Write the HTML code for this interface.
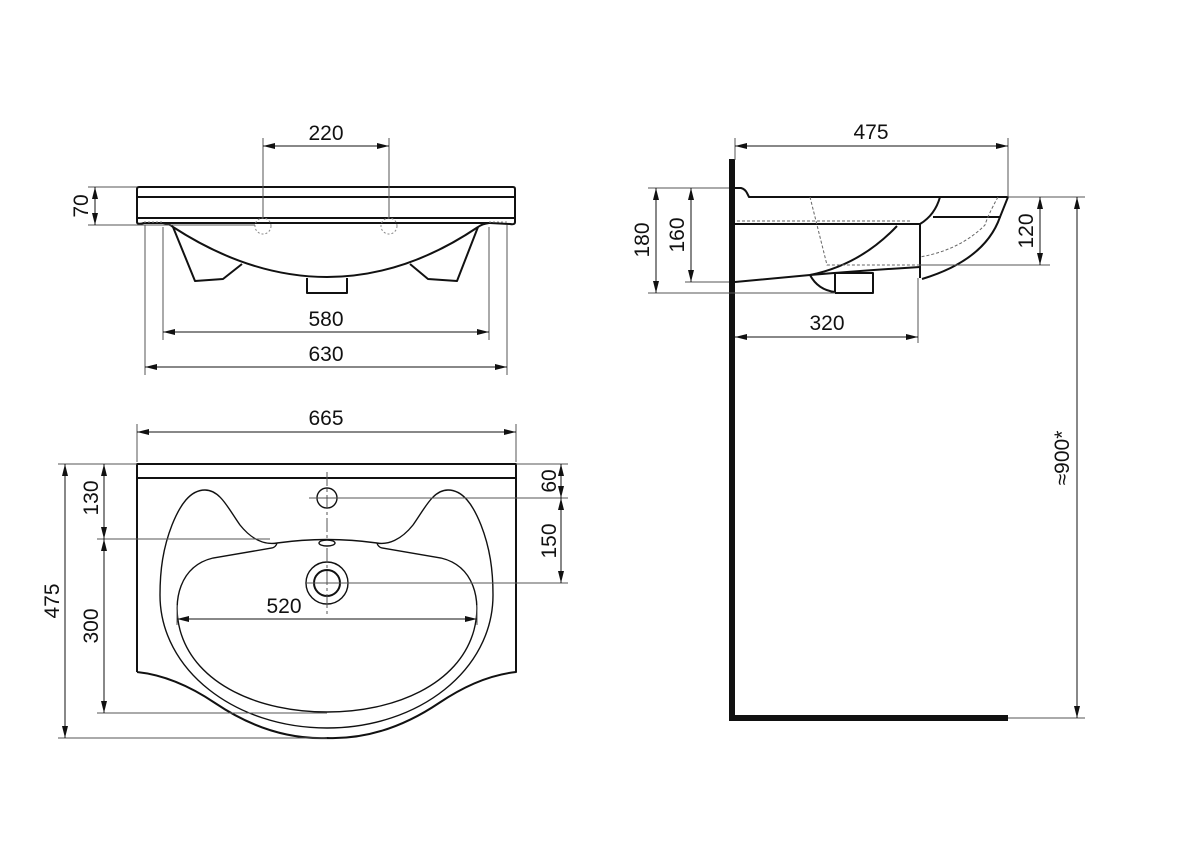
<!DOCTYPE html>
<html><head><meta charset="utf-8"><style>
html,body{margin:0;padding:0;background:#fff}
svg{display:block}
text{font-family:"Liberation Sans",Arial,sans-serif;font-size:21px;fill:#111}
</style></head><body>
<svg width="1200" height="848" viewBox="0 0 1200 848" xmlns="http://www.w3.org/2000/svg">
<defs>
<marker id="a" viewBox="0 0 12 6" refX="12" refY="3" markerWidth="12" markerHeight="6" markerUnits="userSpaceOnUse" orient="auto-start-reverse">
<path d="M0,0 L12,3 L0,6 Z" fill="#111"/></marker>
</defs>
<g fill="none" stroke="#111" stroke-width="2" stroke-linejoin="round">
<!-- FRONT VIEW -->
<path d="M137,189 Q137,187 139,187 L513,187 Q515,187 515,189 L515,222 Q515,225 510,224 L490,223 L144,223 Q137,225 137,222 Z"/>
<line x1="137" y1="197" x2="515" y2="197"/>
<line x1="137" y1="218" x2="515" y2="218"/>
<path d="M173,227 Q250,277 327,277 Q404,277 478,227"/>
<path d="M173,227 L195,281 L223,279 L242,264"/>
<path d="M478,227 L457,281 L428,279 L410,264"/>
<path d="M307,278 L307,293 L347,293 L347,278"/>
<path d="M163,223 Q170,224 173,227 M489,223 Q482,224 478,227"/>
</g>
<g fill="none" stroke="#888" stroke-width="1" stroke-dasharray="2,2">
<circle cx="263" cy="226" r="8"/><circle cx="389" cy="226" r="8"/>
<line x1="144" y1="222" x2="163" y2="222"/><line x1="489" y1="222" x2="507" y2="222"/>
</g>
<g fill="none" stroke="#555" stroke-width="1">
<line x1="263" y1="138" x2="263" y2="218"/><line x1="389" y1="138" x2="389" y2="218"/>
<line x1="88" y1="187" x2="137" y2="187"/><line x1="88" y1="225" x2="255" y2="225"/>
<line x1="163" y1="227" x2="163" y2="340"/><line x1="489" y1="227" x2="489" y2="340"/>
<line x1="145" y1="225" x2="145" y2="375"/><line x1="507" y1="225" x2="507" y2="375"/>
</g>
<g stroke="#111" stroke-width="1" marker-start="url(#a)" marker-end="url(#a)">
<line x1="263" y1="146" x2="389" y2="146"/>
<line x1="95" y1="187" x2="95" y2="225"/>
<line x1="163" y1="332" x2="489" y2="332"/>
<line x1="145" y1="367" x2="507" y2="367"/>
</g>
<text x="326" y="140" text-anchor="middle">220</text>
<text x="326" y="326" text-anchor="middle">580</text>
<text x="326" y="361" text-anchor="middle">630</text>
<text transform="translate(88,206) rotate(-90)" text-anchor="middle">70</text>

<!-- TOP VIEW -->
<g fill="none" stroke="#111" stroke-width="2" stroke-linejoin="round">
<path d="M137,672 L137,464 L516,464 L516,672 Q479,676 439,703 Q384,740 327,738 Q270,740 215,703 Q175,676 137,672"/>
<line x1="137" y1="478" x2="516" y2="478"/>
</g>
<g fill="none" stroke="#111" stroke-width="1.4">
<circle cx="327" cy="498" r="10"/>
<ellipse cx="327" cy="543" rx="8" ry="3"/>
<circle cx="327" cy="583" r="13" stroke-width="2"/>
<circle cx="327" cy="583" r="21"/>
<path d="M277,543 C265,545 252,540 240,525 C228,508 220,490 205,490 C190,490 180,505 172,525 C163,548 160,570 160,595 C160,670 235,728 327,728 C419,728 493,670 493,595 C493,570 490,548 481,525 C473,505 463,490 448,490 C433,490 425,508 413,525 C401,540 388,545 377,543"/>
<path d="M277,543 Q327,536 377,543"/>
<path d="M277,543 Q276,547 272,548 L213,558 C180,566 172,600 180,630 C195,685 260,712 327,712 C394,712 459,685 474,630 C482,600 474,566 441,558 L382,548 Q378,547 377,543"/>
</g>
<g fill="none" stroke="#555" stroke-width="1">
<line x1="327" y1="472" x2="327" y2="538" stroke-dasharray="14,3,3,3"/>
<line x1="327" y1="548" x2="327" y2="614" stroke-dasharray="14,3,3,3"/>
<line x1="309" y1="498" x2="568" y2="498"/>
<line x1="305" y1="583" x2="568" y2="583"/>
<line x1="516" y1="464" x2="568" y2="464"/>
<line x1="97" y1="539" x2="270" y2="539"/>
<line x1="97" y1="713" x2="327" y2="713"/>
<line x1="58" y1="738" x2="327" y2="738"/>
<line x1="58" y1="464" x2="137" y2="464"/>
<line x1="137" y1="424" x2="137" y2="462"/><line x1="516" y1="424" x2="516" y2="462"/>
<line x1="177" y1="605" x2="177" y2="625"/><line x1="477" y1="605" x2="477" y2="625"/>
</g>
<g stroke="#111" stroke-width="1" marker-start="url(#a)" marker-end="url(#a)">
<line x1="137" y1="432" x2="516" y2="432"/>
<line x1="561" y1="464" x2="561" y2="498"/>
<line x1="561" y1="498" x2="561" y2="583"/>
<line x1="65" y1="464" x2="65" y2="738"/>
<line x1="104" y1="464" x2="104" y2="539"/>
<line x1="104" y1="539" x2="104" y2="713"/>
<line x1="177" y1="619" x2="477" y2="619"/>
</g>
<text x="326" y="425" text-anchor="middle">665</text>
<text x="284" y="613" text-anchor="middle">520</text>
<text transform="translate(556,481) rotate(-90)" text-anchor="middle">60</text>
<text transform="translate(556,541) rotate(-90)" text-anchor="middle">150</text>
<text transform="translate(59,601) rotate(-90)" text-anchor="middle">475</text>
<text transform="translate(98,498) rotate(-90)" text-anchor="middle">130</text>
<text transform="translate(98,626) rotate(-90)" text-anchor="middle">300</text>

<!-- SIDE VIEW -->
<rect x="729" y="159" width="6" height="562" fill="#111"/>
<rect x="729" y="715" width="279" height="6" fill="#111"/>
<g fill="none" stroke="#111" stroke-width="2" stroke-linejoin="round">
<path d="M735,188 L741,188 Q745,189 747,193 L749,197 L1008,197 L1000,217 L933,217"/>
<path d="M940,197 Q935,215 920,224 L735,224"/>
<path d="M920,224 L920,278"/>
<path d="M1000,217 Q985,260 922,279"/>
<path d="M735,282 L810,275 Q870,270 920,267"/>
<path d="M897,226 Q860,265 810,275"/>
<path d="M810,275 Q818,290 835,292 L835,273 L873,273 L873,293 L835,293"/>
</g>
<g fill="none" stroke="#666" stroke-width="1" stroke-dasharray="3,2">
<line x1="737" y1="221" x2="912" y2="221"/>
<path d="M810,197 L827,265 L920,265"/>
<path d="M998,197 Q988,215 985,225 Q960,250 920,257"/>
</g>
<g fill="none" stroke="#555" stroke-width="1">
<line x1="735" y1="138" x2="735" y2="160"/>
<line x1="1008" y1="138" x2="1008" y2="197"/>
<line x1="648" y1="188" x2="729" y2="188"/>
<line x1="685" y1="282" x2="729" y2="282"/>
<line x1="648" y1="293" x2="835" y2="293"/>
<line x1="1008" y1="197" x2="1085" y2="197"/>
<line x1="920" y1="265" x2="1050" y2="265"/>
<line x1="918" y1="278" x2="918" y2="343"/>
<line x1="1008" y1="718" x2="1085" y2="718"/>
</g>
<g stroke="#111" stroke-width="1" marker-start="url(#a)" marker-end="url(#a)">
<line x1="735" y1="146" x2="1008" y2="146"/>
<line x1="656" y1="188" x2="656" y2="293"/>
<line x1="691" y1="188" x2="691" y2="282"/>
<line x1="1040" y1="197" x2="1040" y2="265"/>
<line x1="1077" y1="197" x2="1077" y2="718"/>
<line x1="735" y1="337" x2="918" y2="337"/>
</g>
<text x="871" y="139" text-anchor="middle">475</text>
<text x="827" y="330" text-anchor="middle">320</text>
<text transform="translate(649,240) rotate(-90)" text-anchor="middle">180</text>
<text transform="translate(684,235) rotate(-90)" text-anchor="middle">160</text>
<text transform="translate(1033,231) rotate(-90)" text-anchor="middle">120</text>
<text transform="translate(1069,458) rotate(-90)" text-anchor="middle">≈900*</text>
</svg>
</body></html>
